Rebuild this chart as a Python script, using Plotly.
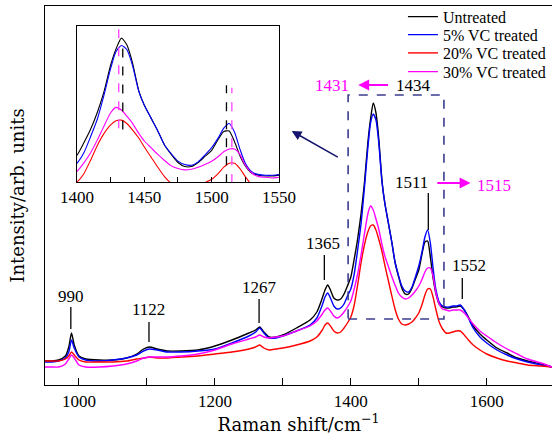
import plotly.graph_objects as go

# ---------------- data ----------------
wavenumber = [950, 960, 970, 980, 985, 989, 993, 1000, 1010, 1030, 1050, 1070, 1085, 1095, 1104, 1115, 1130, 1150, 1175,
              1200, 1225, 1250, 1260, 1266, 1272, 1280, 1290, 1300, 1320, 1340, 1350, 1358, 1362, 1366, 1370, 1375, 1380,
              1385, 1390, 1395, 1400, 1405, 1410, 1415, 1420, 1425, 1429, 1433, 1437, 1441, 1446, 1450, 1455, 1460, 1465,
              1470, 1475, 1480, 1485, 1490, 1495, 1500, 1505, 1509, 1513, 1517, 1521, 1525, 1530, 1535, 1540, 1545, 1550,
              1555, 1561, 1567, 1573, 1580, 1590, 1600, 1615, 1630, 1645, 1660, 1680, 1696]

untreated = [24, 24, 25, 29, 38, 52, 40, 29, 26, 25, 25, 27, 31, 36, 38, 36, 34, 34, 35,
             39, 45, 52, 55, 58, 53, 48, 48, 50, 57, 65, 73, 87, 95, 100, 95, 87, 85,
             86, 91, 99, 108, 126, 146, 171, 202, 242, 266, 282, 272, 247, 203, 182, 163, 144, 123,
             109, 97, 91, 91, 97, 106, 115, 132, 143, 144, 128, 107, 92, 81, 78, 77, 77, 78,
             78, 79, 75, 68, 59, 51, 45, 37, 32, 27, 24, 21, 18]

vc5 = [23, 23, 24, 27, 33, 45, 37, 28, 25, 24, 25, 27, 30, 34, 36, 35, 33, 33, 34,
       36, 42, 49, 53, 57, 52, 47, 47, 49, 54, 60, 67, 80, 88, 92, 87, 79, 76,
       77, 81, 89, 96, 111, 135, 161, 197, 237, 262, 271, 265, 243, 202, 182, 163, 144, 123,
       110, 99, 94, 93, 98, 108, 119, 134, 148, 155, 142, 117, 96, 83, 79, 78, 78, 79,
       79, 80, 75, 67, 57, 48, 42, 35, 30, 26, 23, 20, 18]

vc20 = [24, 24, 24, 26, 29, 33, 30, 25, 23, 23, 23, 24, 26, 27, 28, 27, 27, 28, 29,
        31, 33, 36, 38, 40, 37, 35, 36, 37, 40, 44, 48, 55, 60, 62, 59, 54, 52,
        53, 57, 62, 68, 80, 100, 122, 140, 153, 159, 160, 155, 146, 133, 120, 105, 90, 76,
        66, 61, 60, 61, 63, 67, 72, 81, 90, 96, 96, 88, 76, 63, 56, 52, 52, 53,
        54, 54, 50, 45, 40, 35, 31, 27, 24, 22, 20, 19, 18]

vc30 = [18, 18, 18, 21, 26, 30, 27, 20, 18, 18, 19, 21, 24, 27, 28, 28, 28, 29, 31,
        35, 41, 46, 48, 50, 48, 47, 48, 49, 54, 59, 64, 71, 75, 77, 74, 69, 67,
        69, 73, 78, 84, 96, 111, 130, 151, 171, 179, 175, 166, 156, 140, 129, 119, 109, 100,
        92, 88, 86, 87, 90, 94, 99, 106, 113, 117, 117, 109, 93, 81, 76, 75, 74, 75,
        75, 75, 72, 67, 61, 54, 49, 42, 36, 31, 26, 22, 18]

series_names = ["Untreated", "5% VC treated", "20% VC treated", "30% VC treated"]
series_colors = ["#000000", "#0000ff", "#ff0000", "#ff00ff"]
legend_ids = ["legend", "legend2", "legend3", "legend4"]

# peak labels: text, marker position, marker line ends, text position
peak_text = ["990", "1122", "1267", "1365", "1511", "1552"]
peak_x = [988, 1103, 1265, 1361, 1514, 1564]
peak_line_lo = [56, 43, 62, 105, 155, 86]
peak_line_hi = [78, 63, 86, 130, 192, 107]
peak_text_x = [988, 1103, 1265, 1359, 1489, 1574]
peak_text_y = [89, 76, 98, 142, 203, 120]

# inset dashed markers (wavenumber, y from, y to, colour)
inset_mark_x = [1434, 1431, 1511, 1515]
inset_mark_lo = [146, 148, 66, 66]
inset_mark_hi = [279, 300, 212, 208]
inset_mark_color = ["#000000", "#ff40ff", "#000000", "#ff40ff"]

serif_num = "Liberation Serif"
serif_txt = "DejaVu Serif"

fig = go.Figure()
for name, ys, col, lg in zip(series_names, [untreated, vc5, vc20, vc30], series_colors, legend_ids):
    fig.add_trace(go.Scatter(x=wavenumber, y=ys, mode="lines", name=name, legend=lg,
                             line=dict(color=col, width=1.4, shape="spline", smoothing=0.6),
                             xaxis="x", yaxis="y"))
for name, ys, col in zip(series_names, [untreated, vc5, vc20, vc30], series_colors):
    fig.add_trace(go.Scatter(x=wavenumber, y=ys, mode="lines", name=name, showlegend=False,
                             line=dict(color=col, width=1.1, shape="spline", smoothing=0.6),
                             xaxis="x2", yaxis="y2"))

shapes = []
for px, lo, hi in zip(peak_x, peak_line_lo, peak_line_hi):
    shapes.append(dict(type="line", xref="x", yref="y", x0=px, x1=px, y0=lo, y1=hi,
                       line=dict(color="black", width=1.3)))
# dashed zoom box
shapes.append(dict(type="rect", xref="x", yref="y", x0=1396, x1=1537, y0=66, y1=290,
                   line=dict(color="#3c3c8e", width=1.6, dash="dash")))
for mx, lo, hi, c in zip(inset_mark_x, inset_mark_lo, inset_mark_hi, inset_mark_color):
    shapes.append(dict(type="line", xref="x2", yref="y2", x0=mx, x1=mx, y0=lo, y1=hi,
                       line=dict(color=c, width=1.3, dash="dash")))

annotations = []
for t, tx, ty in zip(peak_text, peak_text_x, peak_text_y):
    annotations.append(dict(x=tx, y=ty, xref="x", yref="y", text=t, showarrow=False,
                            font=dict(family=serif_num, size=17, color="black")))
annotations += [
    dict(x=1492, y=300, xref="x", yref="y", text="1434", showarrow=False,
         font=dict(family=serif_num, size=17, color="black")),
    dict(x=1373, y=300, xref="x", yref="y", text="1431", showarrow=False,
         font=dict(family=serif_num, size=17, color="#ff00ff")),
    dict(x=1610, y=200, xref="x", yref="y", text="1515", showarrow=False,
         font=dict(family=serif_num, size=17, color="#ff00ff")),
    dict(x=1411, y=300, ax=1457, ay=300, xref="x", yref="y", axref="x", ayref="y", text="",
         showarrow=True, arrowhead=2, arrowsize=1.2, arrowwidth=1.8, arrowcolor="#ff00ff"),
    dict(x=1576, y=202, ax=1525, ay=202, xref="x", yref="y", axref="x", ayref="y", text="",
         showarrow=True, arrowhead=2, arrowsize=1.2, arrowwidth=1.8, arrowcolor="#ff00ff"),
    dict(x=1313, y=254, ax=1383, ay=227, xref="x", yref="y", axref="x", ayref="y", text="",
         showarrow=True, arrowhead=2, arrowsize=1.3, arrowwidth=1.5, arrowcolor="#14146e"),
]

legend_style = dict(x=0.706, xanchor="left", yanchor="middle", bgcolor="rgba(0,0,0,0)",
                    font=dict(family=serif_num, size=16, color="black"))
legend_rows = [0.9718, 0.9243, 0.876, 0.8267]

fig.update_layout(
    width=552, height=442,
    margin=dict(l=45, r=0, t=6, b=57, autoexpand=False),
    paper_bgcolor="white", plot_bgcolor="white",
    showlegend=True,
    legend=dict(y=legend_rows[0], **legend_style),
    legend2=dict(y=legend_rows[1], **legend_style),
    legend3=dict(y=legend_rows[2], **legend_style),
    legend4=dict(y=legend_rows[3], **legend_style),
    xaxis=dict(range=[950, 1696], tick0=1000, dtick=200, ticks="inside", ticklen=7, tickwidth=1,
               tickcolor="black", showline=True, linecolor="black", linewidth=1.2, mirror=True,
               showgrid=False, zeroline=False, automargin=False,
               minor=dict(tick0=1000, dtick=100, ticks="inside", ticklen=7, tickcolor="black"),
               tickfont=dict(family=serif_num, size=17, color="black"),
               title=dict(text="Raman shift/cm<sup>−1</sup>", standoff=8,
                          font=dict(family=serif_txt, size=18, color="black"))),
    yaxis=dict(range=[0, 379], showticklabels=False, ticks="", showline=True, linecolor="black",
               linewidth=1.2, showgrid=False, zeroline=False, automargin=False,
               title=dict(text="Intensity/arb. units", standoff=14,
                          font=dict(family=serif_txt, size=18, color="black"))),
    xaxis2=dict(domain=[0.0631, 0.4615], anchor="y2", range=[1400, 1550], tick0=1400, dtick=50,
                ticks="inside", ticklen=5, tickcolor="black", showline=True, linecolor="black",
                linewidth=1, mirror=True, showgrid=False, zeroline=False, automargin=False,
                minor=dict(tick0=1400, dtick=25, ticks="inside", ticklen=5, tickcolor="black"),
                tickfont=dict(family=serif_num, size=17, color="black")),
    yaxis2=dict(domain=[0.5356, 0.9472], anchor="x2", range=[68, 300], showticklabels=False,
                ticks="", showline=True, linecolor="black", linewidth=1, mirror=True,
                showgrid=False, zeroline=False, automargin=False),
    shapes=shapes,
    annotations=annotations,
)

fig.write_html("out.html")
